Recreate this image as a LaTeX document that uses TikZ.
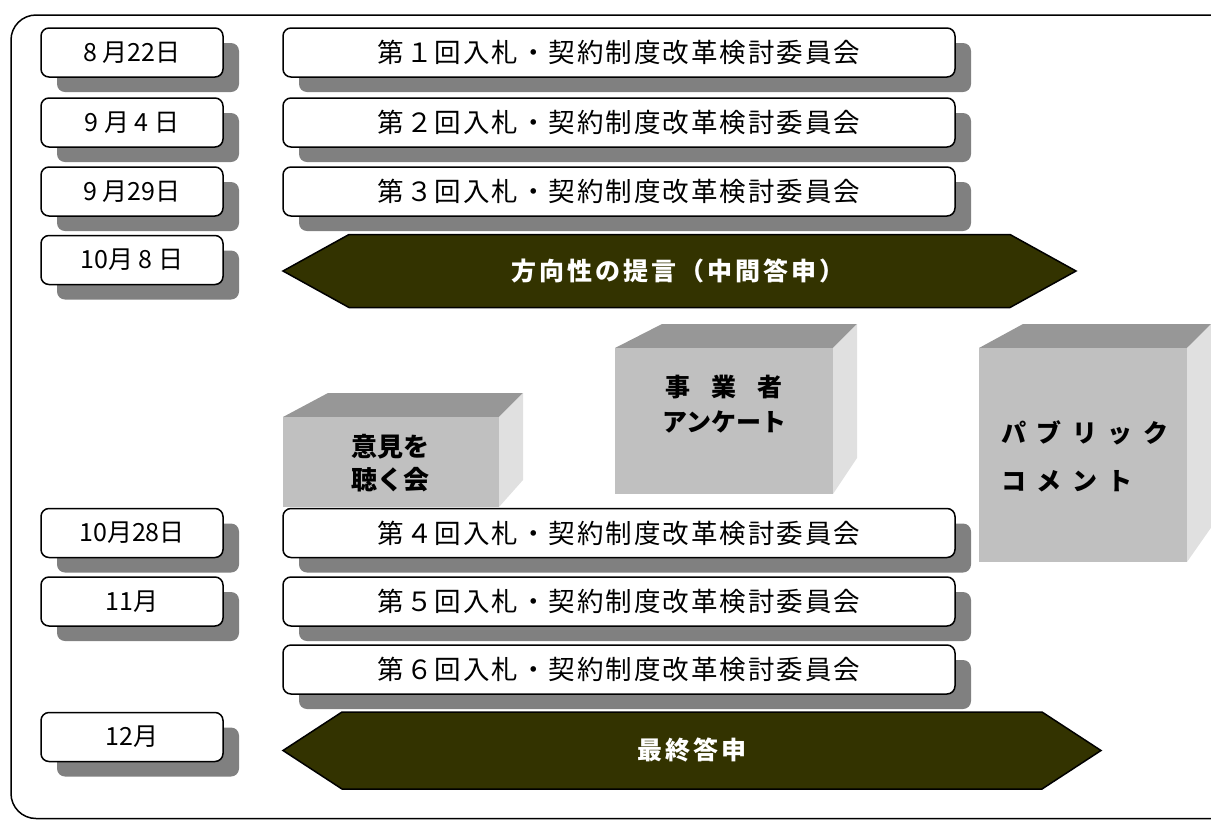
\documentclass[tikz,border=0pt]{standalone}
\usepackage{fontspec}
\setmainfont{Noto Sans CJK JP}
\usetikzlibrary{shadows}
\definecolor{shd}{HTML}{808080}
\definecolor{arrowfill}{HTML}{333300}
\definecolor{cfront}{HTML}{C0C0C0}
\definecolor{ctop}{HTML}{979797}
\definecolor{cside}{HTML}{E0E0E0}
\tikzset{
  boxbase/.style={draw=black, line width=1.5pt, fill=white, rounded corners=8pt,
    minimum height=49pt, inner sep=0pt,
    drop shadow={shadow xshift=16pt, shadow yshift=-15pt, fill=shd, opacity=1}},
  datebox/.style={boxbase, minimum width=182pt, font=\fontsize{25}{28}\selectfont},
  cbox/.style={boxbase, minimum width=672pt, font=\fontsize{26.5}{30}\selectfont\addfontfeature{LetterSpace=7.5}},
  arrowshape/.style={draw=black, line width=1.5pt, fill=arrowfill},
  arrowtext/.style={text=white, inner sep=0pt, font=\fontsize{25}{28}\selectfont\bfseries\addfontfeature{LetterSpace=12}},
  boxtext/.style={text=black, inner sep=0pt, align=center, font=\fontsize{26}{33}\selectfont\bfseries},
  frame/.style={draw=black, line width=1.5pt, rounded corners=25pt}
}
\begin{document}
\begin{tikzpicture}[x=1pt, y=-1pt]
\useasboundingbox (0,0) rectangle (1211,820);
\clip (0,0) rectangle (1211,820);
% outer frame
\draw[frame] (11,15) rectangle (1320,818.5);

% 3D boxes
\fill[ctop] (283,417) -- (328,393) -- (523,393) -- (499,417) -- cycle;
\fill[cside] (499,417) -- (523,393) -- (523,480) -- (499,507) -- cycle;
\fill[cfront] (283,417) rectangle (499,507);
\node[boxtext] (iken) at (390,463.5) {意見を\\聴く会};

\fill[ctop] (615,348) -- (662,324) -- (857,324) -- (833,348) -- cycle;
\fill[cside] (833,348) -- (857,324) -- (857,458) -- (833,494) -- cycle;
\fill[cfront] (615,348) rectangle (833,494);
\node[boxtext, font=\fontsize{25}{35}\selectfont\bfseries] (jigyo) at (724,404.5) {事\hspace{21pt}業\hspace{21pt}者\\アンケート};

\fill[ctop] (979,348) -- (1023,324) -- (1215,324) -- (1187,348) -- cycle;
\fill[cside] (1187,348) -- (1211,324) -- (1215,324) -- (1215,522) -- (1187,562) -- cycle;
\fill[cfront] (979,348) rectangle (1187,562);
\node[boxtext, align=left, anchor=west, font=\fontsize{25}{48}\selectfont\bfseries\addfontfeature{LetterSpace=42}] (pub) at (1001,456) {パブリック\\コメント};

% date boxes
\node[datebox] (d1) at (132,52.5) {8 月22日};
\node[datebox] (d2) at (132,122.5) {9 月 4 日};
\node[datebox] (d3) at (132,191.5) {9 月29日};
\node[datebox] (d4) at (132,260) {10月 8 日};
\node[datebox] (d5) at (132,533) {10月28日};
\node[datebox] (d6) at (132,601.5) {11月};
\node[datebox] (d7) at (132,737) {12月};

% committee boxes
\node[cbox] (c1) at (619,52.5) {第１回入札・契約制度改革検討委員会};
\node[cbox] (c2) at (619,122.5) {第２回入札・契約制度改革検討委員会};
\node[cbox] (c3) at (619,191.5) {第３回入札・契約制度改革検討委員会};
\node[cbox] (c4) at (619,533) {第４回入札・契約制度改革検討委員会};
\node[cbox] (c5) at (619,601.5) {第５回入札・契約制度改革検討委員会};
\node[cbox] (c6) at (619,669.5) {第６回入札・契約制度改革検討委員会};

% arrows
\draw[arrowshape] (283,271) -- (349,234.5) -- (1010,234.5) -- (1076,271) -- (1010,307.5) -- (349,307.5) -- cycle;
\node[arrowtext] (a1) at (678,271) {方向性の提言（中間答申）};
\draw[arrowshape] (283,750.5) -- (342,712) -- (1042,712) -- (1101,750.5) -- (1042,789) -- (342,789) -- cycle;
\node[arrowtext] (a2) at (692,750.5) {最終答申};
\end{tikzpicture}
\end{document}
